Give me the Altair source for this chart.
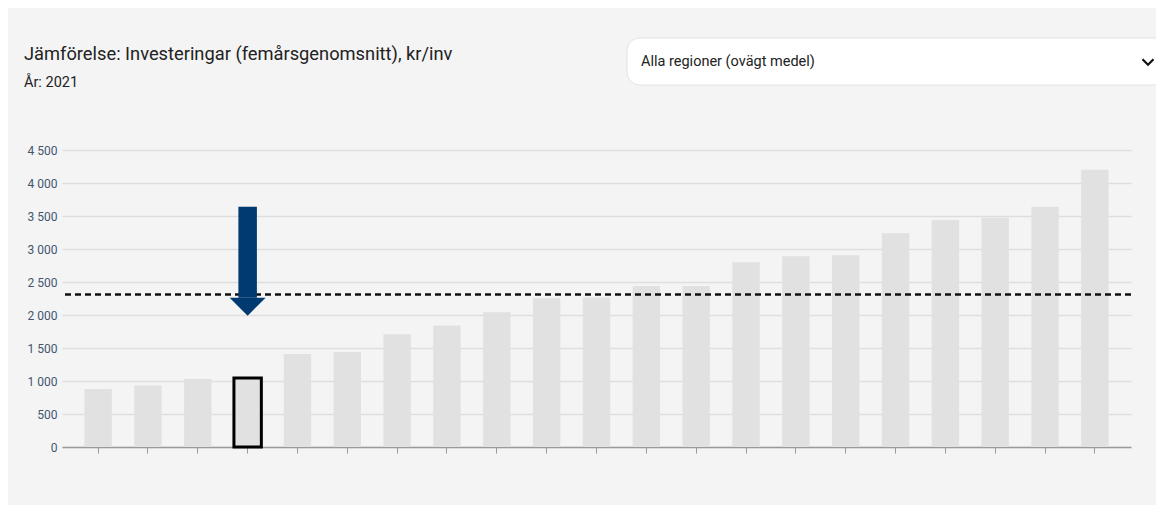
import altair as alt
import pandas as pd

# ---- data ----
regions = [f"R{i:02d}" for i in range(1, 22)]
values = [880, 930, 1030, 1045, 1410, 1440, 1710, 1840, 2040, 2255, 2265,
          2440, 2440, 2800, 2890, 2905, 3240, 3440, 3475, 3640, 4200]
highlight = "R04"
mean_value = 2310
y_ticks = [0, 500, 1000, 1500, 2000, 2500, 3000, 3500, 4000, 4500]
arrow_top = 3640
arrow_head_base = 2262
arrow_tip = 1990

title_text = "Jämförelse: Investeringar (femårsgenomsnitt), kr/inv"
subtitle_text = "År: 2021"
dropdown_text = "Alla regioner (ovägt medel)"

FONT = "Roboto"
NAVY = "#003a70"
BAR = "#e1e1e1"
W, H = 1069, 297

df = pd.DataFrame({"region": regions, "value": values})
df["hl"] = df["region"] == highlight

x_enc = alt.X(
    "region:N", sort=None,
    scale=alt.Scale(paddingInner=0.45, paddingOuter=0.45),
    axis=alt.Axis(labels=False, title=None, ticks=True, tickSize=6,
                  tickColor="#9a9a9a", tickWidth=1, domainColor="#9a9a9a",
                  domainWidth=1.5, grid=False),
)
y_axis = alt.Axis(values=y_ticks, title=None, domain=False, ticks=False,
                  labelPadding=5, labelFontSize=12, labelFont=FONT,
                  labelColor="#3f5670", gridColor="#dedede", gridWidth=1.5,
                  labelExpr="replace(format(datum.value, ',d'), ',', ' ')")
y_scale = alt.Scale(domain=[0, 4500], nice=False)
y_enc = alt.Y("value:Q", scale=y_scale, axis=y_axis)

bars = alt.Chart(df).mark_bar(fill=BAR, stroke="black").encode(
    x=x_enc, y=y_enc,
    strokeWidth=alt.condition(alt.datum.hl, alt.value(3), alt.value(0)),
)

mean_df = pd.DataFrame({"value": [mean_value]})
mean_rule = alt.Chart(mean_df).mark_rule(
    color="#111111", strokeWidth=2.5, strokeDash=[6, 4]
).encode(y=y_enc)

arrow_df = pd.DataFrame({"region": [highlight], "value": [arrow_top],
                         "base": [arrow_head_base], "tip": [arrow_tip]})
shaft = alt.Chart(arrow_df).mark_rule(
    color=NAVY, strokeWidth=18.5, strokeCap="butt"
).encode(x=x_enc, y=y_enc, y2="base:Q")
head = alt.Chart(arrow_df).transform_calculate(
    value="(datum.base + datum.tip) / 2"
).mark_point(
    shape="M-1,-0.5L1,-0.5L0,0.5Z", filled=True, fill=NAVY, opacity=1,
    size=1296, strokeWidth=0
).encode(x=x_enc, y=y_enc)


def label(text, x, y, size, color="#222222", baseline="alphabetic"):
    return alt.Chart(pd.DataFrame({"t": [text]})).mark_text(
        align="left", baseline=baseline, fontSize=size, font=FONT, color=color
    ).encode(text="t:N", x=alt.value(x), y=alt.value(y))


title = label(title_text, -38, -90, 18.3)
subtitle = label(subtitle_text, -38, -63, 14.5)

box = alt.Chart(pd.DataFrame({"a": [0]})).mark_rect(
    fill="white", stroke="#e3e3e3", strokeWidth=1, cornerRadius=13
).encode(x=alt.value(565), x2=alt.value(1140), y=alt.value(-112), y2=alt.value(-65))
box_text = label(dropdown_text, 579, -88, 14.5, baseline="middle")
chevron = alt.Chart(pd.DataFrame({"a": [0]})).mark_point(
    shape="M-1,-0.5L0,0.5L1,-0.5", filled=False, stroke="#111111",
    strokeWidth=2.2, size=121, opacity=1
).encode(x=alt.value(1086), y=alt.value(-88))

chart = alt.layer(
    bars, mean_rule, shaft, head, title, subtitle, box, box_text, chevron
).properties(
    width=W, height=H,
    padding={"left": 54, "top": 142, "right": 25, "bottom": 58},
    autosize=alt.AutoSizeParams(type="none"),
    background="#f4f4f4",
).configure_view(stroke=None)

chart.save("out.html", embed_options={"renderer": "svg", "actions": False})
